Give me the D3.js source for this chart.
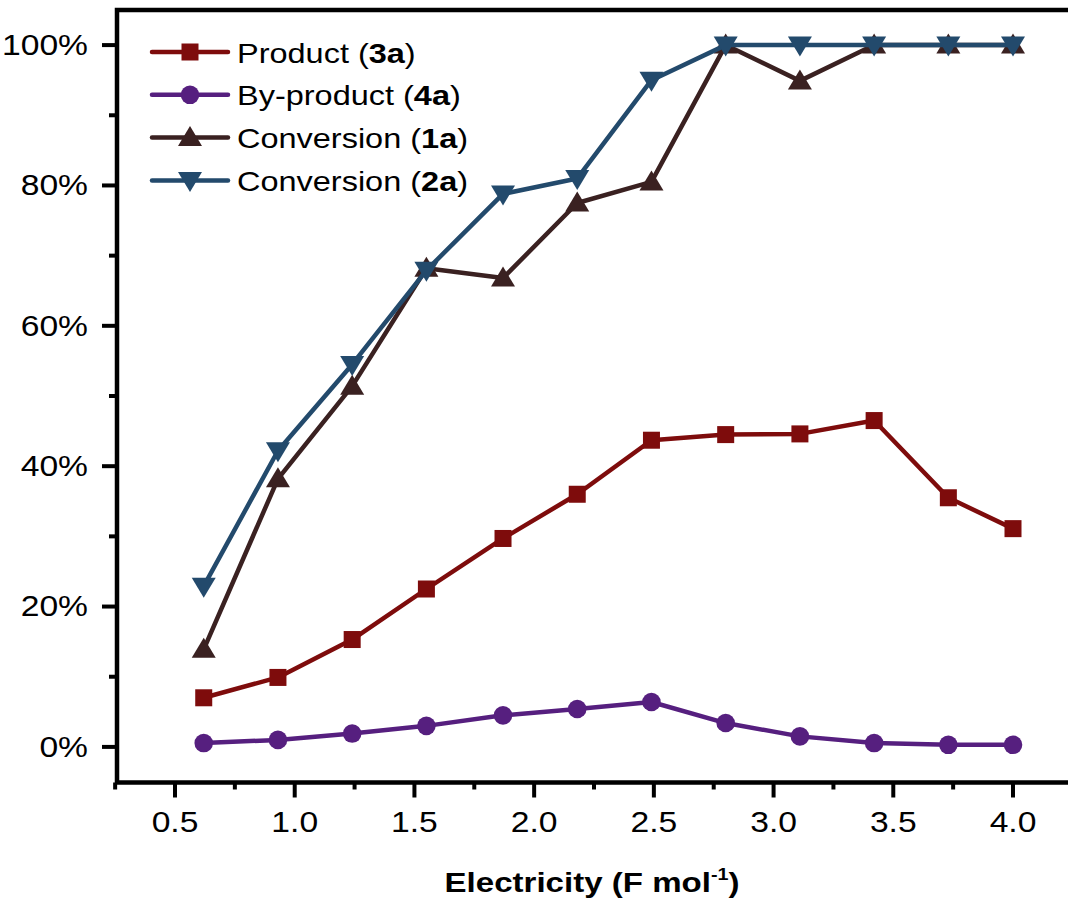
<!DOCTYPE html>
<html>
<head>
<meta charset="utf-8">
<script src="https://cdn.jsdelivr.net/npm/d3@7"></script>
<style>
  html, body { margin: 0; padding: 0; background: #fff; }
  svg { display: block; font-family: "Liberation Sans", Arial, Helvetica, sans-serif; }
</style>
</head>
<body>
<svg id="chart" width="1068" height="899"></svg>
<script>
// Electricity passed (F mol^-1)
const electricity = [0.62, 0.93, 1.24, 1.55, 1.87, 2.18, 2.49, 2.80, 3.11, 3.42, 3.73, 4.00];

// Yields / conversions (%)
const product3a    = [7.0, 9.9, 15.3, 22.5, 29.7, 36.0, 43.7, 44.5, 44.6, 46.5, 35.5, 31.1];
const byproduct4a  = [0.55, 1.0, 1.9, 3.0, 4.5, 5.4, 6.4, 3.4, 1.5, 0.55, 0.3, 0.3];
const conversion1a = [13.9, 38.2, 51.4, 68.2, 66.8, 77.5, 80.5, 100, 94.9, 100, 100, 100];
const conversion2a = [22.9, 42.2, 54.5, 67.9, 78.8, 81.0, 95.0, 100, 100, 100, 100, 100];

// Axis ticks
const xTicks = [0.5, 1.0, 1.5, 2.0, 2.5, 3.0, 3.5, 4.0];
const xMinorTicks = [0.25, 0.75, 1.25, 1.75, 2.25, 2.75, 3.25, 3.75];
const yTicks = [0, 20, 40, 60, 80, 100];
const yMinorTicks = [10, 30, 50, 70, 90];

const series = [
  { name: "Product (", bold: "3a", values: product3a,    color: "#7e0c0c", symbol: "square" },
  { name: "By-product (", bold: "4a", values: byproduct4a,  color: "#561f7f", symbol: "circle" },
  { name: "Conversion (", bold: "1a", values: conversion1a, color: "#3a2121", symbol: "up" },
  { name: "Conversion (", bold: "2a", values: conversion2a, color: "#234a6c", symbol: "down" }
];

const svg = d3.select("#chart");
const SX = 1.16;   // horizontal text stretch

const x = d3.scaleLinear().domain([0.5, 4.0]).range([175, 1013]);
const y = d3.scaleLinear().domain([-5, 105]).range([782, 10]);

const frame = { left: 117, top: 10, bottom: 782.5, right: 1100 };

// marker shapes
function drawMarker(g, sym, cx, cy, color) {
  if (sym === "square") {
    g.append("rect").attr("x", cx - 8.5).attr("y", cy - 8.5).attr("width", 17).attr("height", 17).attr("fill", color);
  } else if (sym === "circle") {
    g.append("circle").attr("cx", cx).attr("cy", cy).attr("r", 9.3).attr("fill", color);
  } else if (sym === "up") {
    g.append("path").attr("d", `M${cx},${cy - 11.5}L${cx + 12},${cy + 8.5}L${cx - 12},${cy + 8.5}Z`).attr("fill", color);
  } else {
    g.append("path").attr("d", `M${cx},${cy + 11.5}L${cx + 12},${cy - 8.5}L${cx - 12},${cy - 8.5}Z`).attr("fill", color);
  }
}

// Y axis ticks
const yAxis = svg.append("g");
yTicks.forEach(v => {
  yAxis.append("line").attr("x1", frame.left - 15).attr("x2", frame.left).attr("y1", y(v)).attr("y2", y(v))
    .attr("stroke", "#000").attr("stroke-width", 4);
  yAxis.append("text")
    .attr("transform", `translate(88,${y(v)}) scale(${SX},1)`)
    .attr("text-anchor", "end").attr("dominant-baseline", "central")
    .attr("font-size", 29).attr("fill", "#000")
    .text(v + "%");
});
yMinorTicks.forEach(v => {
  yAxis.append("line").attr("x1", frame.left - 8).attr("x2", frame.left).attr("y1", y(v)).attr("y2", y(v))
    .attr("stroke", "#000").attr("stroke-width", 4);
});

// X axis ticks
const xAxis = svg.append("g");
xTicks.forEach(v => {
  xAxis.append("line").attr("x1", x(v)).attr("x2", x(v)).attr("y1", frame.bottom).attr("y2", frame.bottom + 15)
    .attr("stroke", "#000").attr("stroke-width", 4);
  xAxis.append("text")
    .attr("transform", `translate(${x(v)},${frame.bottom + 40}) scale(${SX},1)`)
    .attr("text-anchor", "middle").attr("dominant-baseline", "central")
    .attr("font-size", 29).attr("fill", "#000")
    .text(v.toFixed(1));
});
xMinorTicks.forEach(v => {
  xAxis.append("line").attr("x1", x(v)).attr("x2", x(v)).attr("y1", frame.bottom).attr("y2", frame.bottom + 7)
    .attr("stroke", "#000").attr("stroke-width", 4);
});

// frame
svg.append("path")
  .attr("d", `M${frame.right},${frame.top}H${frame.left}V${frame.bottom}H${frame.right}`)
  .attr("fill", "none").attr("stroke", "#000").attr("stroke-width", 4.5);

// Axis title
const title = svg.append("text")
  .attr("transform", `translate(592,892) scale(${SX},1)`)
  .attr("text-anchor", "middle").attr("font-size", 28.5).attr("font-weight", "bold").attr("fill", "#000");
title.append("tspan").text("Electricity (F mol");
title.append("tspan").attr("font-size", 17).attr("dy", -12).text("-1");
title.append("tspan").attr("dy", 12).text(")");

// Series lines and markers
const line = d3.line().x((d, i) => x(electricity[i])).y(d => y(d));
series.forEach(s => {
  const g = svg.append("g");
  g.append("path").datum(s.values).attr("d", line)
    .attr("fill", "none").attr("stroke", s.color).attr("stroke-width", 4.5).attr("stroke-linejoin", "round");
  s.values.forEach((v, i) => drawMarker(g, s.symbol, x(electricity[i]), y(v), s.color));
});

// Legend
const legend = svg.append("g");
series.forEach((s, i) => {
  const ly = 52 + i * 42.8;
  legend.append("line").attr("x1", 152).attr("x2", 228).attr("y1", ly).attr("y2", ly)
    .attr("stroke", s.color).attr("stroke-width", 4.5).attr("stroke-linecap", "round");
  drawMarker(legend, s.symbol, 190, ly, s.color);
  const t = legend.append("text")
    .attr("transform", `translate(237,${ly + 10.5}) scale(${SX},1)`)
    .attr("font-size", 28).attr("fill", "#000");
  t.append("tspan").text(s.name);
  t.append("tspan").attr("font-weight", "bold").text(s.bold);
  t.append("tspan").text(")");
});
</script>
</body>
</html>
